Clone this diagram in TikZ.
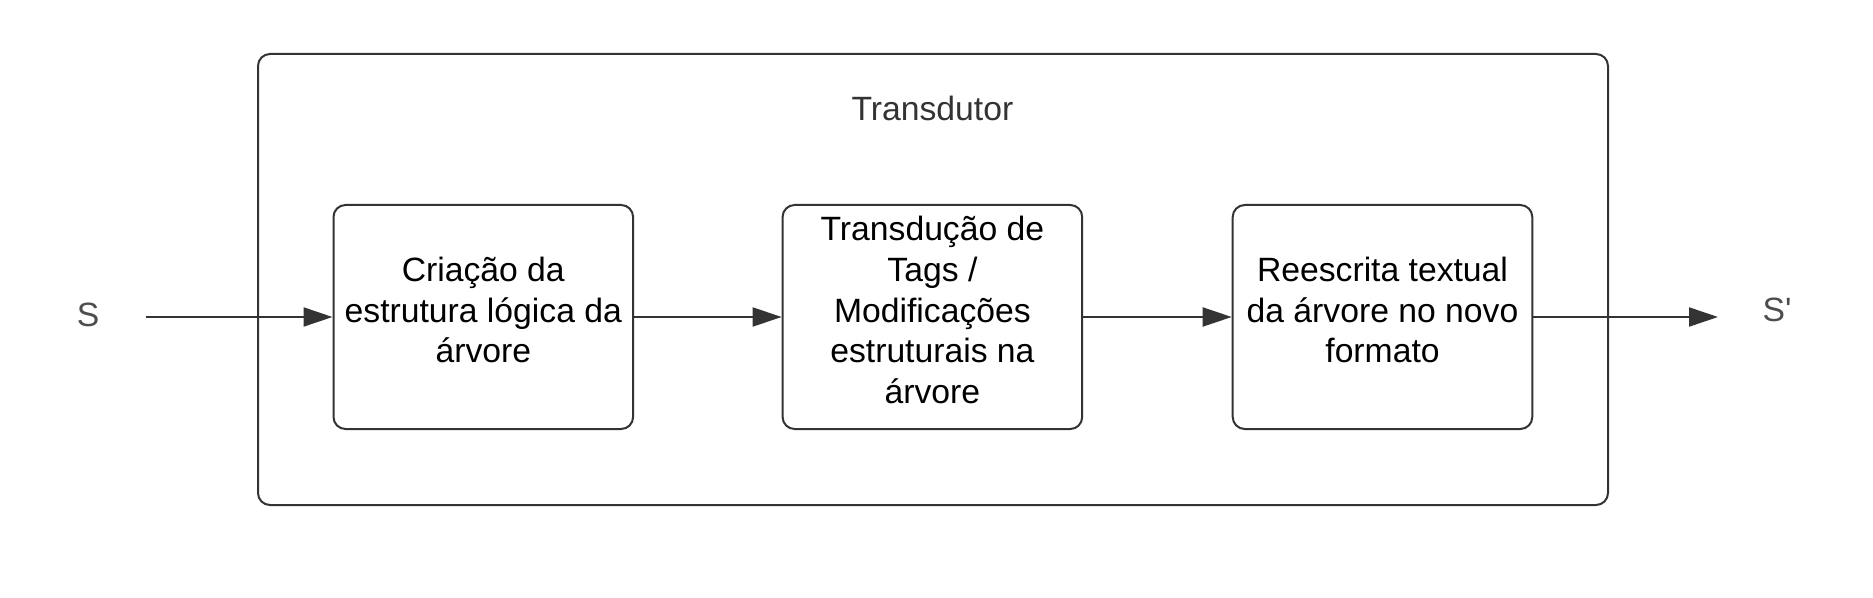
\documentclass[tikz,border=0pt]{standalone}
\usepackage{fontspec}
\setmainfont{Liberation Sans}
\newfontfamily\rawfont{Liberation Sans}[Ligatures=ResetAll]
\usetikzlibrary{arrows.meta}
\definecolor{linec}{HTML}{333333}
\definecolor{labc}{HTML}{4D4D4D}
\tikzset{
  stagebox/.style={draw=linec, line width=1pt, rounded corners=6pt, minimum width=149.8pt, minimum height=112pt, inner sep=0pt},
  stagetext/.style={align=center, text=black, inner sep=0pt, font=\fontsize{16.85}{20.4}\selectfont},
  framebox/.style={draw=linec, line width=1pt, rounded corners=6pt, minimum width=675pt, minimum height=225.5pt, inner sep=0pt},
  lbl/.style={text=labc, inner sep=0pt, font=\fontsize{16.85}{20.4}\selectfont},
  arr/.style={draw=linec, line width=1pt, -{Triangle[length=14.5pt,width=9.5pt]}, fill=linec},
}
\begin{document}
\begin{tikzpicture}[x=0.5pt,y=-0.5pt]
\useasboundingbox (0,0) rectangle (1873,598);
\node[framebox] (outer) at (933,279.5) {};
\node[lbl, text=linec] (title) at (932.4,108) {Transdutor};
\node[stagebox] (b1) at (483.3,317) {};
\node[stagebox] (b2) at (932.4,317) {};
\node[stagebox] (b3) at (1382.5,317) {};
\node[stagetext] (t1) at ([yshift=3.5pt]b1.center) {Criação da\\estrutura lógica da\\árvore};
\node[stagetext] (t2) at ([yshift=3.5pt]b2.center) {Transdução de\\Tags /\\Modificações\\estruturais na\\árvore};
\node[stagetext] (t3) at ([yshift=3.5pt]b3.center) {Reescrita textual\\da árvore no novo\\formato};
\node[lbl] (s) at (88,315) {S};
\node[lbl, font=\rawfont\fontsize{16.85}{20.4}\selectfont] (sp) at (1777,310) {S'};
\coordinate (in) at (145.6,317);
\coordinate (out) at (1718,317);
\draw[arr] (in) -- (b1.west);
\draw[arr] (b1.east) -- (b2.west);
\draw[arr] (b2.east) -- (b3.west);
\draw[arr] (b3.east) -- (out);
\end{tikzpicture}
\end{document}
